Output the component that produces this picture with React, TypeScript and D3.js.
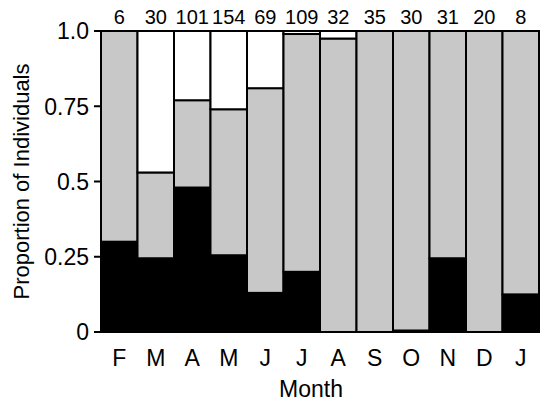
import * as d3 from "d3";

const months = ["F", "M", "A", "M", "J", "J", "A", "S", "O", "N", "D", "J"];
const counts = [6, 30, 101, 154, 69, 109, 32, 35, 30, 31, 20, 8];
// proportion in the bottom (black) group
const blackShare = [0.3, 0.245, 0.48, 0.255, 0.13, 0.2, 0, 0, 0.005, 0.245, 0, 0.125];
// proportion in the middle (grey) group
const greyShare = [0.7, 0.285, 0.29, 0.485, 0.68, 0.79, 0.975, 1, 0.995, 0.755, 1, 0.875];
const yTicks = [0, 0.25, 0.5, 0.75, 1.0];
const yTickLabels = ["0", "0.25", "0.5", "0.75", "1.0"];

const width = 540;
const height = 402;
const margin = { top: 31, right: 1, bottom: 70, left: 101 };
const font = "'Liberation Sans', Arial, sans-serif";

export default function App() {
  const x = d3
    .scaleBand<number>()
    .domain(months.map((_, i) => i))
    .range([margin.left, width - margin.right])
    .padding(0);
  const y = d3.scaleLinear().domain([0, 1]).range([height - margin.bottom, margin.top]);

  const rows = months.map((m, i) => {
    const b = blackShare[i];
    const g = greyShare[i];
    return { m, i, parts: [
      { from: 0, to: b, fill: "#000" },
      { from: b, to: b + g, fill: "#c8c8c8" },
      { from: b + g, to: 1, fill: "#fff" },
    ] };
  });

  return (
    <svg width={width} height={height} style={{ position: "absolute", left: 0, top: 0 }}>
      <rect width={width} height={height} fill="#fff" />
      {rows.map((r) =>
        r.parts
          .filter((p) => p.to - p.from > 0.0001)
          .map((p, k) => (
            <rect
              key={`${r.i}-${k}`}
              x={x(r.i)!}
              y={y(p.to)}
              width={x.bandwidth()}
              height={y(p.from) - y(p.to)}
              fill={p.fill}
              stroke="#000"
              strokeWidth={2}
            />
          ))
      )}
      {/* y axis */}
      <line x1={margin.left} x2={margin.left} y1={y(0)} y2={y(1)} stroke="#000" strokeWidth={2} />
      {yTicks.map((t, i) => (
        <g key={t}>
          <line x1={margin.left - 7} x2={margin.left} y1={y(t)} y2={y(t)} stroke="#000" strokeWidth={2} />
          <text
            x={margin.left - 12}
            y={y(t)}
            dy="0.36em"
            textAnchor="end"
            fontFamily={font}
            fontSize={23}
            fill="#000"
          >
            {yTickLabels[i]}
          </text>
        </g>
      ))}
      {months.map((m, i) => (
        <text
          key={`m${i}`}
          x={x(i)! + x.bandwidth() / 2}
          y={366}
          textAnchor="middle"
          fontFamily={font}
          fontSize={23}
          fill="#000"
        >
          {m}
        </text>
      ))}
      {counts.map((c, i) => (
        <text
          key={`c${i}`}
          x={x(i)! + x.bandwidth() / 2}
          y={24}
          textAnchor="middle"
          fontFamily={font}
          fontSize={20}
          fill="#000"
        >
          {c}
        </text>
      ))}
      <text
        x={311}
        y={397}
        textAnchor="middle"
        fontFamily={font}
        fontSize={23}
        fill="#000"
      >
        Month
      </text>
      <text
        transform={`translate(29,${(y(0) + y(1)) / 2}) rotate(-90)`}
        textAnchor="middle"
        fontFamily={font}
        fontSize={22}
        fill="#000"
      >
        Proportion of Individuals
      </text>
    </svg>
  );
}
